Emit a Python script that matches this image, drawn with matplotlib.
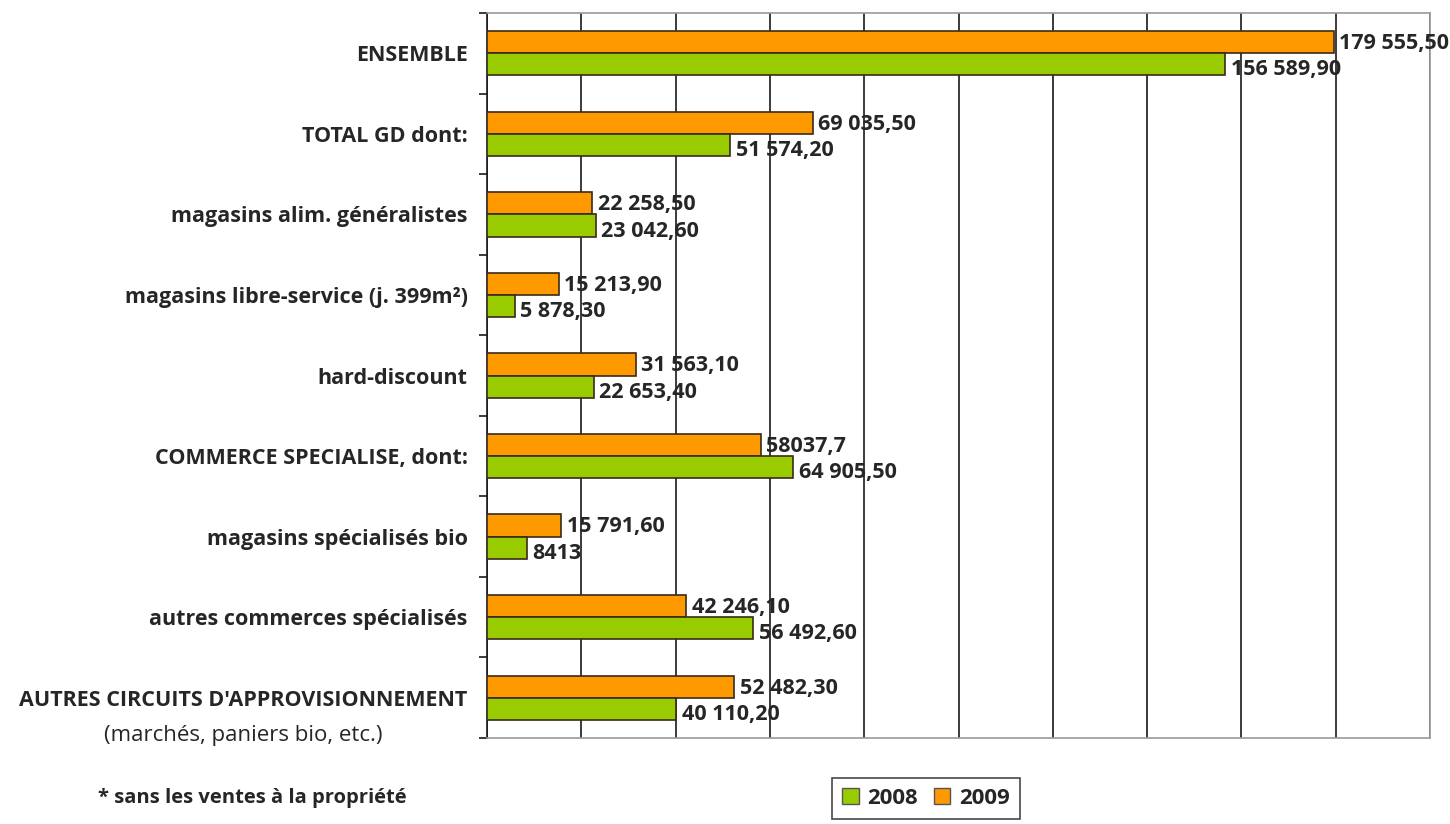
import matplotlib
matplotlib.use("Agg")
import matplotlib.pyplot as plt
from matplotlib.patches import Patch
from matplotlib.ticker import MultipleLocator, FixedLocator
import numpy as np

categories = [
    "ENSEMBLE",
    "TOTAL GD dont:",
    "magasins alim. généralistes",
    "magasins libre-service (j. 399m²)",
    "hard-discount",
    "COMMERCE SPECIALISE, dont:",
    "magasins spécialisés bio",
    "autres commerces spécialisés",
    "AUTRES CIRCUITS D'APPROVISIONNEMENT",
]
sub_label = "(marchés, paniers bio, etc.)"

values_2008 = [156589.90, 51574.20, 23042.60, 5878.30, 22653.40, 64905.50, 8413, 56492.60, 40110.20]
values_2009 = [179555.50, 69035.50, 22258.50, 15213.90, 31563.10, 58037.7, 15791.60, 42246.10, 52482.30]
labels_2008 = ["156 589,90", "51 574,20", "23 042,60", "5 878,30", "22 653,40", "64 905,50", "8413", "56 492,60", "40 110,20"]
labels_2009 = ["179 555,50", "69 035,50", "22 258,50", "15 213,90", "31 563,10", "58037,7", "15 791,60", "42 246,10", "52 482,30"]
series_names = ["2008", "2009"]
footnote = "* sans les ventes à la propriété"

FONT = ["Open Sans", "DejaVu Sans"]
plt.rcParams["font.family"] = FONT
TXT = "#262626"
C2008 = "#99CC00"
C2009 = "#FF9900"

fig = plt.figure(figsize=(14.5, 8.24), dpi=100)
ax = fig.add_axes([487 / 1450, 1 - 738 / 824, (1430 - 487) / 1450, (738 - 13) / 824])

n = len(categories)
y = np.arange(n)
h = 0.275
ax.barh(y - h / 2, values_2009, height=h, color=C2009, edgecolor="#3a2a1a", linewidth=1.2, zorder=3)
ax.barh(y + h / 2, values_2008, height=h, color=C2008, edgecolor="#3a2a1a", linewidth=1.2, zorder=3)

ax.set_xlim(0, 200000)
ax.set_ylim(n - 0.5, -0.5)
ax.xaxis.set_major_locator(MultipleLocator(20000))
ax.grid(axis="x", color="#1a1a1a", linewidth=1.2, zorder=0)
ax.set_xticklabels([])
ax.tick_params(axis="x", length=0)

ax.yaxis.set_major_locator(FixedLocator(y))
ax.yaxis.set_minor_locator(FixedLocator(np.arange(-0.5, n, 1.0)))
ax.tick_params(axis="y", which="major", length=0, pad=14)
ax.tick_params(axis="y", which="minor", length=6, width=1.2, color="#1a1a1a")
ax.set_yticklabels(categories, fontsize=15.5, fontweight="bold", color=TXT)

for side in ["top", "right", "bottom"]:
    ax.spines[side].set_color("#9a9a9a")
    ax.spines[side].set_linewidth(1.2)
ax.spines["left"].set_color("#1a1a1a")
ax.spines["left"].set_linewidth(1.2)

# second line of last category label, centred under the first line
fig.canvas.draw()
last_lbl = ax.get_yticklabels()[-1]
ax.annotate(sub_label, xy=(0.5, 0), xycoords=last_lbl, xytext=(0, -10),
            textcoords="offset points", ha="center", va="top", fontsize=16, color=TXT)

for i in range(n):
    ax.annotate(labels_2009[i], xy=(values_2009[i], y[i] - h / 2), xytext=(4, -1),
                textcoords="offset points", ha="left", va="center",
                fontsize=15.5, fontweight="bold", color=TXT, zorder=5)
    ax.annotate(labels_2008[i], xy=(values_2008[i], y[i] + h / 2), xytext=(4, -4),
                textcoords="offset points", ha="left", va="center",
                fontsize=15.5, fontweight="bold", color=TXT, zorder=5)

handles = [Patch(facecolor=C2008, edgecolor="#555555"), Patch(facecolor=C2009, edgecolor="#555555")]
leg = fig.legend(handles, series_names, loc="center", bbox_to_anchor=(926 / 1450, 1 - 798 / 824),
                 ncol=2, frameon=True, fancybox=False, edgecolor="#1a1a1a",
                 prop={"family": FONT, "weight": "bold", "size": 16},
                 handlelength=0.75, handleheight=0.75, handletextpad=0.4, columnspacing=0.7,
                 borderpad=0.45)
for t in leg.get_texts():
    t.set_color(TXT)
leg.get_frame().set_linewidth(1.2)

fig.text(252 / 1450, 1 - 798 / 824, footnote, ha="center", va="center",
         fontsize=14.5, fontweight="bold", color=TXT)

fig.savefig("out.png", dpi=100)
